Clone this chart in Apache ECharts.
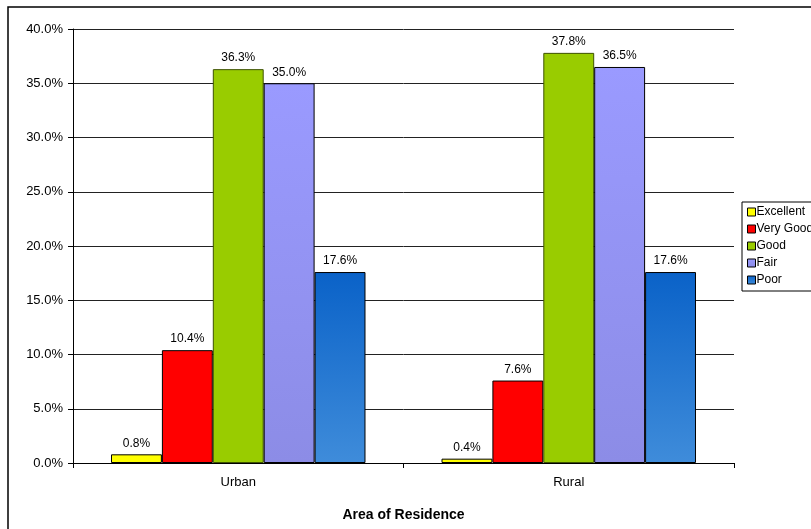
<!DOCTYPE html>
<html>
<head>
<meta charset="utf-8">
<script src="https://cdn.jsdelivr.net/npm/echarts@6/dist/echarts.min.js"></script>
<style>
  html, body { margin: 0; padding: 0; background: #fff; }
  #chart { width: 811px; height: 529px; }
</style>
</head>
<body>
<div id="chart"></div>
<script>
// 类目与数据
const categories = ["Urban", "Rural"];
const excellent = [0.8, 0.4];
const veryGood = [10.4, 7.6];
const good = [36.3, 37.8];
const fair = [35.0, 36.5];
const poor = [17.6, 17.6];
const yTicks = [0, 5, 10, 15, 20, 25, 30, 35, 40];

const font = "Liberation Sans, Arial, sans-serif";

// 竖直渐变
function grad(top, bottom) {
  return new echarts.graphic.LinearGradient(0, 0, 0, 1, [
    { offset: 0, color: top },
    { offset: 1, color: bottom },
  ]);
}

function makeSeries(name, data, color, border) {
  return {
    name: name,
    type: "bar",
    data: data,
    barGap: "0%",
    barCategoryGap: "23%",
    itemStyle: { color: color, borderColor: border || "#000", borderWidth: 1 },
    label: {
      show: true,
      position: "top",
      distance: 5,
      color: "#000",
      fontFamily: font,
      fontSize: 12,
      formatter: (p) => p.value.toFixed(1) + "%",
    },
  };
}

const chart = echarts.init(document.getElementById("chart"));
chart.setOption({
  animation: false,
  textStyle: { fontFamily: font },
  graphic: [
    {
      type: "rect",
      shape: { x: 8, y: 7, width: 900, height: 600 },
      style: { fill: "none", stroke: "#000", lineWidth: 1.5 },
      silent: true,
    },
  ],
  grid: { left: 73, right: 77, top: 29, bottom: 66 },
  legend: {
    orient: "vertical",
    left: 742,
    top: 202,
    icon: "rect",
    itemWidth: 8,
    itemHeight: 8,
    itemGap: 5,
    padding: [4, 4, 5, 5],
    borderColor: "#000",
    borderWidth: 1,
    textStyle: { fontSize: 12, lineHeight: 12, color: "#000", padding: [0, 0, 0, -4] },
    itemStyle: { borderColor: "#000", borderWidth: 1 },
    data: ["Excellent", "Very Good", "Good", "Fair", "Poor"],
  },
  xAxis: {
    type: "category",
    data: categories,
    name: "Area of Residence",
    nameLocation: "middle",
    nameGap: 45,
    nameTextStyle: { fontSize: 14, fontWeight: "bold", color: "#000" },
    axisLine: { lineStyle: { color: "#000" } },
    axisTick: { show: true, length: 5, lineStyle: { color: "#000" } },
    axisLabel: { fontSize: 13, color: "#000", margin: 13 },
  },
  yAxis: {
    type: "value",
    min: yTicks[0],
    max: yTicks[yTicks.length - 1],
    interval: 5,
    axisLine: { show: true, lineStyle: { color: "#000" } },
    axisTick: { show: true, length: 5, lineStyle: { color: "#000" } },
    axisLabel: { fontSize: 13, color: "#000", margin: 10, formatter: (v) => v.toFixed(1) + "%" },
    splitLine: { lineStyle: { color: "#222" } },
  },
  series: [
    makeSeries("Excellent", excellent, "#ffff00"),
    makeSeries("Very Good", veryGood, "#ff0000"),
    makeSeries("Good", good, "#99cc00", "#3d5200"),
    makeSeries("Fair", fair, grad("#9a9aff", "#8c8ce6")),
    makeSeries("Poor", poor, grad("#0a62c8", "#3f8cda")),
  ],
});
</script>
</body>
</html>
